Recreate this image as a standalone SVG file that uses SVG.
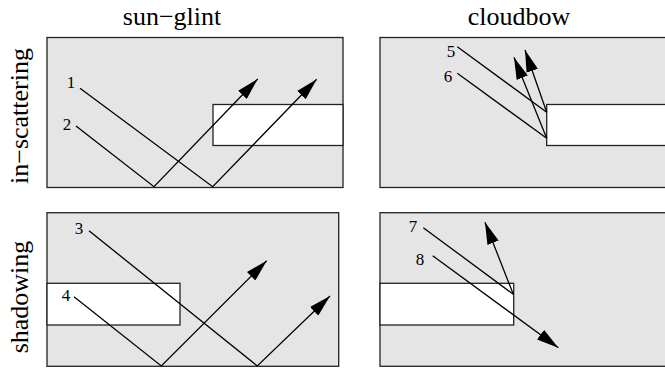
<svg xmlns="http://www.w3.org/2000/svg" width="665" height="369" viewBox="0 0 665 369">
<style>
.panel{fill:#e5e5e5;stroke:#222;stroke-width:1.3}
.slab{fill:#fff;stroke:#222;stroke-width:1.3}
.ray{fill:none;stroke:#000;stroke-width:1.3}
.arr{marker-end:url(#ah)}
text{font-family:"Liberation Serif","Times New Roman",serif;fill:#000;text-anchor:middle}
.title{font-size:26px}
.num{font-size:17px}
</style>
<defs>
<marker id="ah" markerUnits="userSpaceOnUse" viewBox="0 0 22 12" refX="22" refY="6" markerWidth="22" markerHeight="12" orient="auto">
<path d="M0,0 L22,6 L0,12 z" fill="#000"/>
</marker>
</defs>
<rect width="665" height="369" fill="#fff"/>
<g id="labels">
<text class="title" x="172" y="25">sun−glint</text>
<text class="title" x="519" y="25">cloudbow</text>
<text class="title" transform="translate(28,116) rotate(-90)">in−scattering</text>
<text class="title" transform="translate(28,297) rotate(-90)">shadowing</text>
</g>
<g id="panel-sunglint-inscatter">
<rect class="panel" x="47" y="37.5" width="296" height="150"/>
<rect class="slab" x="213" y="104.5" width="130" height="41"/>
<text class="num" x="71" y="88">1</text>
<text class="num" x="67" y="130">2</text>
</g>
<g id="panel-cloudbow-inscatter">
<rect class="panel" x="380" y="37.5" width="290" height="150"/>
<rect class="slab" x="546.7" y="104.5" width="130" height="41"/>
<text class="num" x="451" y="57">5</text>
<text class="num" x="448" y="82">6</text>
</g>
<g id="panel-sunglint-shadow">
<rect class="panel" x="47" y="212.7" width="291.7" height="153.6"/>
<rect class="slab" x="47" y="283.3" width="133" height="41.7"/>
<text class="num" x="79" y="234">3</text>
<text class="num" x="66" y="301">4</text>
</g>
<g id="panel-cloudbow-shadow">
<rect class="panel" x="380" y="212.7" width="290" height="153.6"/>
<rect class="slab" x="380" y="283.3" width="133.7" height="41.7"/>
<text class="num" x="413" y="232">7</text>
<text class="num" x="420" y="265">8</text>
</g>
<g id="connectors">
<polyline class="ray arr" points="80,88.3 212.7,186.7 316.7,79.3"/>
<polyline class="ray arr" points="76,126 154,186.7 257.7,79"/>
<polyline class="ray" points="457.3,46.7 546.7,112.3"/>
<polyline class="ray arr" points="546.7,112.3 525,50"/>
<polyline class="ray" points="457.3,73.3 546.7,138.3"/>
<polyline class="ray arr" points="546.7,138.3 514,57.3"/>
<polyline class="ray arr" points="89,230.7 257.3,366 330,296"/>
<polyline class="ray arr" points="74,296.7 161.3,366 266.7,260.7"/>
<polyline class="ray" points="423.3,227.7 513.3,294.3"/>
<polyline class="ray arr" points="513.3,294.3 485,222.3"/>
<polyline class="ray arr" points="432.7,255.7 558.3,347.7"/>
</g>
</svg>
